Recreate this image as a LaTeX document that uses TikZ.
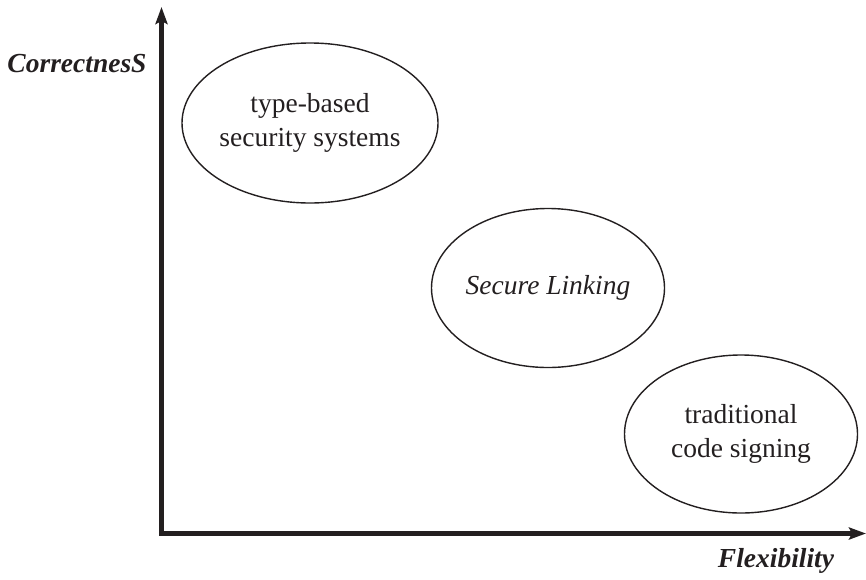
\documentclass[tikz,border=0pt]{standalone}
\usepackage{fontspec}
\setmainfont{Liberation Serif}
\usetikzlibrary{shapes.geometric,arrows.meta}
\definecolor{ink}{RGB}{35,31,32}
\begin{document}
\begin{tikzpicture}[x=1pt,y=-1pt,
  axis/.style={line width=4.5pt,draw=ink,line join=miter,
    {Stealth[length=17pt,width=12pt,inset=3pt]}-{Stealth[length=17pt,width=12pt,inset=3pt]}},
  blob/.style={ellipse,draw=ink,line width=1.4pt,inner sep=0pt,align=center,
    font=\fontsize{27.5}{34}\selectfont,text=ink},
  axislabel/.style={font=\fontsize{27.5}{34}\selectfont\bfseries\itshape,text=ink,anchor=base,inner sep=0pt}]
\useasboundingbox (0,0) rectangle (866,579);
\coordinate (xend) at (866,533.5);
\coordinate (origin) at (161.5,533.5);
\coordinate (yend) at (161.5,7);
\draw[axis] (xend) -- (origin) -- (yend);
\node[blob,minimum width=234pt,minimum height=160pt] (type) at (310,123) {type-based\\security systems};
\node[blob,minimum width=233pt,minimum height=159pt] (secure) at (548,288) {\itshape Secure Linking};
\node[blob,minimum width=233pt,minimum height=158pt] (trad) at (741,434) {traditional\\code signing};
\node[axislabel] (corr) at (77,72) {CorrectnesS};
\node[axislabel] (flex) at (776,567) {Flexibility};
\end{tikzpicture}
\end{document}
